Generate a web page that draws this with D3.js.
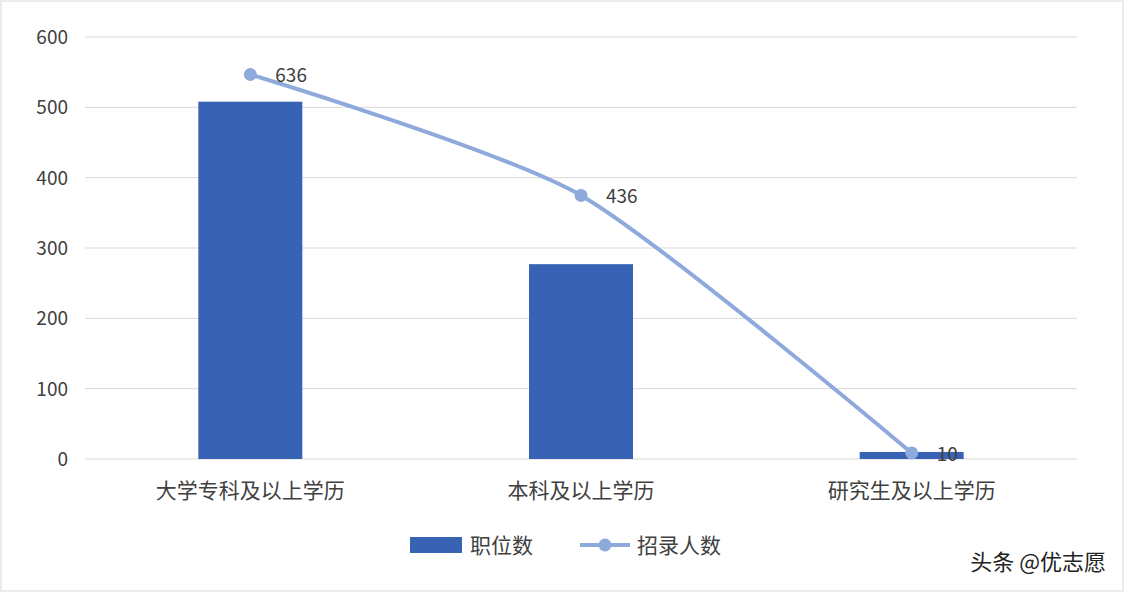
<!DOCTYPE html>
<html><head><meta charset="utf-8">
<script src="https://cdn.jsdelivr.net/npm/d3@7"></script>
<style>body{margin:0;background:#fff;font-family:"Noto Sans CJK SC","Noto Sans",sans-serif}</style>
</head><body><svg id="c" width="1124" height="592"></svg>
<script>
const categories=["大学专科及以上学历","本科及以上学历","研究生及以上学历"];
const positions=[508,277,10];
const recruits=[636,436,10];
const yTicks=[0,100,200,300,400,500,600];
const svg=d3.select("#c");
svg.append("rect").attr("x",1).attr("y",1).attr("width",1122).attr("height",590).attr("fill","#fff").attr("stroke","#d9d9d9");
const x=d3.scaleBand().domain(categories).range([85,1077]);
const y=d3.scaleLinear().domain([0,600]).range([459,37]);
const y2=d3.scaleLinear().domain([0,698]).range([459,37]);
svg.append("g").selectAll("line").data(yTicks).join("line")
 .attr("x1",85).attr("x2",1077).attr("y1",d=>y(d)).attr("y2",d=>y(d)).attr("stroke","#d9d9d9");
svg.append("g").selectAll("text").data(yTicks).join("text")
 .attr("x",68).attr("y",d=>y(d)+7).attr("text-anchor","end").attr("font-size",19).attr("fill","#404040").text(d=>d);
const bw=104;
svg.append("g").selectAll("rect").data(positions).join("rect")
 .attr("x",(d,i)=>x(categories[i])+x.bandwidth()/2-bw/2).attr("width",bw)
 .attr("y",d=>y(d)).attr("height",d=>459-y(d)).attr("fill","#3863b4");
svg.append("g").selectAll("text").data(categories).join("text")
 .attr("x",d=>x(d)+x.bandwidth()/2).attr("y",498).attr("text-anchor","middle").attr("font-size",21).attr("fill","#404040").text(d=>d);
const pts=recruits.map((v,i)=>[x(categories[i])+x.bandwidth()/2,y2(v)]);
svg.append("path").attr("d",d3.line().curve(d3.curveCardinal.tension(0.3))(pts)).attr("fill","none").attr("stroke","#8eaadc").attr("stroke-width",4);
svg.append("g").selectAll("circle").data(pts).join("circle").attr("cx",d=>d[0]).attr("cy",d=>d[1]).attr("r",6.5).attr("fill","#8eaadc");
svg.append("g").selectAll("text").data(recruits).join("text")
 .attr("x",(d,i)=>pts[i][0]+25).attr("y",(d,i)=>pts[i][1]+8).attr("font-size",19).attr("fill","#404040").text(d=>d);
// legend
svg.append("rect").attr("x",410).attr("y",537).attr("width",52).attr("height",16).attr("fill","#3863b4");
svg.append("text").attr("x",470).attr("y",553).attr("font-size",21).attr("fill","#404040").text("职位数");
svg.append("line").attr("x1",580).attr("x2",630).attr("y1",545).attr("y2",545).attr("stroke","#8eaadc").attr("stroke-width",4);
svg.append("circle").attr("cx",605).attr("cy",545).attr("r",6.5).attr("fill","#8eaadc");
svg.append("text").attr("x",637).attr("y",553).attr("font-size",21).attr("fill","#404040").text("招录人数");
svg.append("text").attr("x",1106).attr("y",570).attr("text-anchor","end").attr("font-size",22).attr("fill","#222").text("头条 @优志愿");
</script></body></html>
